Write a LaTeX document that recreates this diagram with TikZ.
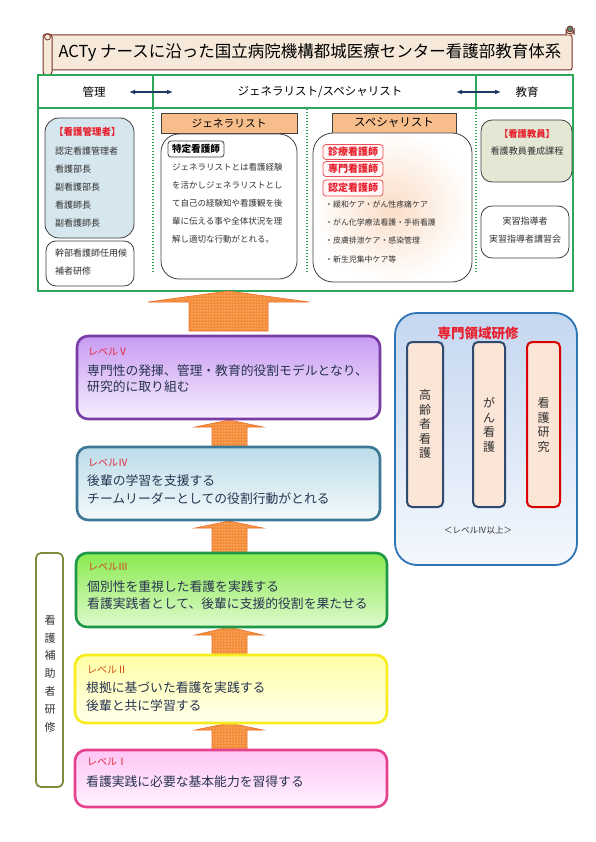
\documentclass[tikz,border=0pt]{standalone}
\usepackage{fontspec}
\setmainfont{Noto Sans CJK JP}
\usepackage{tikz}
\usetikzlibrary{arrows.meta,positioning,calc,patterns}
\definecolor{panelgreen}{RGB}{45,168,90}
\definecolor{scrollfill}{RGB}{246,233,217}
\definecolor{scrollline}{RGB}{120,50,40}
\definecolor{rollgreen}{RGB}{95,130,105}
\definecolor{navyline}{RGB}{31,56,100}
\definecolor{textnavy}{RGB}{40,52,80}
\definecolor{inkgray}{RGB}{50,50,50}
\definecolor{alertred}{RGB}{232,32,45}
\definecolor{mgrfill}{RGB}{214,230,238}
\definecolor{hdorange}{RGB}{247,190,140}
\definecolor{edufill}{RGB}{226,232,212}
\definecolor{boxgray}{RGB}{64,64,64}
\definecolor{specin}{RGB}{251,222,200}
\definecolor{arrfill}{RGB}{245,140,55}
\definecolor{arrline}{RGB}{236,112,40}
\definecolor{lvVline}{RGB}{120,60,165}
\definecolor{lvVtop}{RGB}{200,155,242}
\definecolor{lvVbot}{RGB}{246,238,254}
\definecolor{lvIVline}{RGB}{60,120,150}
\definecolor{lvIVtop}{RGB}{188,220,233}
\definecolor{lvIVbot}{RGB}{242,249,251}
\definecolor{lvIIIline}{RGB}{30,152,72}
\definecolor{lvIIItop}{RGB}{138,234,80}
\definecolor{lvIIIbot}{RGB}{222,250,205}
\definecolor{lvIIline}{RGB}{246,236,30}
\definecolor{lvIItop}{RGB}{255,255,165}
\definecolor{lvIIbot}{RGB}{255,255,236}
\definecolor{lvIline}{RGB}{230,65,140}
\definecolor{lvItop}{RGB}{255,198,245}
\definecolor{lvIbot}{RGB}{255,242,255}
\definecolor{specline}{RGB}{46,117,182}
\definecolor{spectop}{RGB}{196,215,240}
\definecolor{specbot}{RGB}{244,248,253}
\definecolor{innerfill}{RGB}{251,229,214}
\definecolor{innernavy}{RGB}{47,74,110}
\definecolor{olive}{RGB}{127,140,60}
\definecolor{lvred}{RGB}{228,40,60}
\definecolor{lvorange}{RGB}{212,72,22}
\tikzset{
  fsz/.style={font=\fontsize{#1}{#1}\selectfont},
  greenframe/.style={draw=panelgreen,line width=1.7pt,inner sep=0pt},
  sepline/.style={draw=panelgreen,line width=1.6pt,dash pattern=on 1.4pt off 1.6pt},
  duoarrow/.style={{Latex[length=6pt,width=5pt]}-{Latex[length=6pt,width=5pt]},line width=1.3pt,draw=navyline},
  colhead/.style={draw=boxgray,fill=hdorange,line width=.6pt,inner sep=0pt},
  softbox/.style={draw=boxgray,line width=.8pt,rounded corners=#1,inner sep=0pt},
  tagbox/.style={draw=alertred!80,fill=red!3,line width=.8pt,rounded corners=3pt,inner sep=0pt,
    minimum width=60pt,minimum height=15pt,text=alertred,fsz=10},
  item/.style={anchor=west,inner sep=0pt,text=inkgray,fsz=#1},
  bigarrow/.style={draw=arrline,line width=.6pt,preaction={fill=arrfill},pattern=dots,pattern color=white},
  levelbox/.style n args={3}{draw=#1,top color=#2,bottom color=#3,rounded corners=11pt,line width=2.6pt,inner sep=0pt},
  lvlabel/.style={anchor=west,inner sep=0pt,fsz=10},
  lvtext/.style={anchor=west,inner sep=0pt,text=textnavy,fsz=12.8},
  fieldbox/.style={fill=innerfill,line width=2pt,rounded corners=5pt,inner sep=0pt,minimum height=165pt},
  vtext/.style={align=center,inner sep=0pt,text=inkgray}
}
\begin{document}
\begin{tikzpicture}[x=1pt,y=-1pt]
\useasboundingbox[fill=white] (0,0) rectangle (596,842);

% scroll title
\draw[scrollline,fill=scrollfill,line width=1pt,rounded corners=2pt] (48,35) rectangle (572,70);
\draw[scrollline,fill=scrollfill,line width=1pt,rounded corners=3pt] (43,34) rectangle (52,75);
\draw[scrollline,fill=scrollfill,line width=.8pt] (47.5,37) circle (3pt);
\draw[scrollline,fill=scrollfill,line width=1pt] (566,35) -- (566,30) arc (180:0:4) -- (574,35);
\draw[scrollline,fill=rollgreen,line width=.8pt] (570,29) circle (3pt);
\node[inner sep=0pt,text=black,fsz=16.5] (title) at (310,52)
  {ACTy ナースに沿った国立病院機構都城医療センター看護部教育体系};

% header row and panel
\node[greenframe,minimum width=535pt,minimum height=33pt] (hdr) at (305.5,91.5) {};
\node[greenframe,minimum width=535pt,minimum height=183pt] (panel) at (305.5,199.5) {};
\draw[panelgreen,line width=1.5pt] (153,75) -- (153,108) (476,75) -- (476,108);
\foreach \x in {153,307,476}{
  \draw[sepline] (\x,109) -- (\x,272);
}
\node[inner sep=0pt,fsz=11.5] (hMgr) at (94,92) {管理};
\node[inner sep=0pt,fsz=11.5] (hGen) at (320,92) {ジェネラリスト/スペシャリスト};
\node[inner sep=0pt,fsz=11.5] (hEdu) at (527,92) {教育};
\coordinate (mgL) at (129,92);
\coordinate (mgR) at (173,92);
\coordinate (edL) at (456,92);
\coordinate (edR) at (501,92);
\draw[duoarrow] (mgL) -- (mgR);
\draw[duoarrow] (edL) -- (edR);

% management column
\node[softbox=14pt,fill=mgrfill,minimum width=89pt,minimum height=120pt] (mgrBox) at (89.5,178) {};
\node[item=9.5,text=alertred] (mgrHead) at (54,132) {\bfseries 【看護管理者】};
\foreach \t [count=\i] in {認定看護管理者,看護部長,副看護部長,看護師長,副看護師長}{
  \node[item=9] (mgr\i) at (55,{133+18*\i}) {\t};
}
\node[softbox=10pt,fill=white,minimum width=88pt,minimum height=45pt] (candBox) at (90,263.5) {};
\node[item=9] (cand1) at (55,253) {幹部看護師任用候};
\node[item=9] (cand2) at (55,271) {補者研修};

% generalist column
\node[colhead,minimum width=136pt,minimum height=20pt,fsz=10.7] (genHead) at (229,123) {ジェネラリスト};
\node[softbox=18pt,fill=white,minimum width=136pt,minimum height=145pt] (genBox) at (229,206.5) {};
\node[draw=boxgray,line width=.8pt,rounded corners=3pt,inner sep=0pt,minimum width=56pt,minimum height=16pt,fsz=9.6]
  (tokutei) at (196,149) {\bfseries 特定看護師};
\foreach \t [count=\i] in {ジェネラリストとは看護経験,を活かしジェネラリストとし,て自己の経験知や看護観を後,輩に伝える事や全体状況を理,解し適切な行動がとれる。}{
  \node[item=8.5] (gen\i) at (172,{149+18*\i}) {\t};
}

% specialist column
\node[colhead,minimum width=124pt,minimum height=20pt,fsz=11.5] (spcHead) at (394,123) {スペシャリスト};
\node[softbox=20pt,inner color=specin,outer color=white,minimum width=159pt,minimum height=149pt] (spcBox) at (392.5,207.5) {};
\node[tagbox] (tagA) at (353,152) {\bfseries 診療看護師};
\node[tagbox] (tagB) at (353,169) {\bfseries 専門看護師};
\node[tagbox,minimum height=16pt] (tagC) at (353,188) {\bfseries 認定看護師};
\foreach \t/\y [count=\i] in {・緩和ケア・がん性疼痛ケア/204,・がん化学療法看護・手術看護/222,・皮膚排泄ケア・感染管理/240,・新生児集中ケア等/259}{
  \node[item=7.9] (spc\i) at (325,\y) {\t};
}

% education column
\node[softbox=11pt,fill=edufill,minimum width=91pt,minimum height=62pt] (eduBox) at (526.5,151) {};
\node[inner sep=0pt,text=alertred,fsz=9.3] (eduHead) at (527,134) {\bfseries 【看護教員】};
\node[inner sep=0pt,text=inkgray,fsz=9.1] (edu1) at (527,151) {看護教員養成課程};
\node[softbox=11pt,fill=white,minimum width=88pt,minimum height=52pt] (guideBox) at (525,232) {};
\node[inner sep=0pt,text=inkgray,fsz=9] (guide1) at (525,221) {実習指導者};
\node[inner sep=0pt,text=inkgray,fsz=9] (guide2) at (525,239) {実習指導者講習会};

% block arrows
\path[bigarrow] (228.5,291) -- (309,302) -- (268,302) -- (268,331) -- (189,331) -- (189,302) -- (148,302) -- cycle;
\foreach \yt/\yb/\ys in {420/427/447,521/528/553,627/635/655,723/730/750}{
  \path[bigarrow] (229,\yt) -- (263,\yb) -- (247,\yb) -- (247,\ys) -- (212,\ys) -- (212,\yb) -- (195,\yb) -- cycle;
}

% levels
\node[levelbox={lvVline}{lvVtop}{lvVbot},minimum width=303pt,minimum height=83pt] (lvV) at (228.5,377.5) {};
\node[lvlabel,text=lvred] (labV) at (88,352) {レベルⅤ};
\node[lvtext] (txtVa) at (87,371) {専門性の発揮、管理・教育的役割モデルとなり、};
\node[lvtext] (txtVb) at (87,387) {研究的に取り組む};

\node[levelbox={lvIVline}{lvIVtop}{lvIVbot},minimum width=303pt,minimum height=73pt] (lvIV) at (228.5,483.5) {};
\node[lvlabel,text=lvred] (labIV) at (88,463) {レベルⅣ};
\node[lvtext] (txtIVa) at (87,481) {後輩の学習を支援する};
\node[lvtext] (txtIVb) at (87,499) {チームリーダーとしての役割行動がとれる};

\node[levelbox={lvIIIline}{lvIIItop}{lvIIIbot},minimum width=311pt,minimum height=74pt] (lvIII) at (231.5,590) {};
\node[lvlabel,text=lvorange] (labIII) at (88,567) {レベルⅢ};
\node[lvtext] (txtIIIa) at (87,587) {個別性を重視した看護を実践する};
\node[lvtext] (txtIIIb) at (87,604) {看護実践者として、後輩に支援的役割を果たせる};

\node[levelbox={lvIIline}{lvIItop}{lvIIbot},minimum width=312pt,minimum height=68pt] (lvII) at (231,689) {};
\node[lvlabel,text=lvorange] (labII) at (87,670) {レベルⅡ};
\node[lvtext] (txtIIa) at (86,688) {根拠に基づいた看護を実践する};
\node[lvtext] (txtIIb) at (86,706) {後輩と共に学習する};

\node[levelbox={lvIline}{lvItop}{lvIbot},minimum width=312pt,minimum height=57pt] (lvI) at (231,778.5) {};
\node[lvlabel,text=lvred] (labI) at (87,762) {レベルⅠ};
\node[lvtext] (txtIa) at (86,782) {看護実践に必要な基本能力を習得する};

% assistant training
\node[draw=olive,fill=white,line width=1.8pt,rounded corners=5pt,inner sep=0pt,minimum width=27pt,minimum height=234pt] (auxBox) at (49.5,670) {};
\node[vtext,font=\fontsize{11}{17.8}\selectfont] (auxText) at (50,673.5) {看\\護\\補\\助\\者\\研\\修};

% specialty training
\node[draw=specline,top color=spectop,bottom color=specbot,line width=1.8pt,rounded corners=22pt,inner sep=0pt,
  minimum width=182pt,minimum height=252pt] (fieldPanel) at (486,439) {};
\node[inner sep=0pt,text=alertred,fsz=13.5] (fieldTitle) at (478,333) {\bfseries 専門領域研修};
\node[fieldbox,draw=innernavy,minimum width=36pt] (fAge) at (425,424.5) {};
\node[fieldbox,draw=innernavy,minimum width=32pt] (fCancer) at (489,424.5) {};
\node[fieldbox,draw=red!85!black,minimum width=33pt] (fRes) at (543.5,424.5) {};
\node[vtext,font=\fontsize{12}{14.5}\selectfont] (tAge) at (425,424) {高\\齢\\者\\看\\護};
\node[vtext,font=\fontsize{12}{14.5}\selectfont] (tCancer) at (489,425) {が\\ん\\看\\護};
\node[vtext,font=\fontsize{12}{14.5}\selectfont] (tRes) at (543.5,425) {看\\護\\研\\究};
\node[inner sep=0pt,text=inkgray,fsz=8.5] (fieldNote) at (478,530) {＜レベルⅣ以上＞};

\end{tikzpicture}
\end{document}
